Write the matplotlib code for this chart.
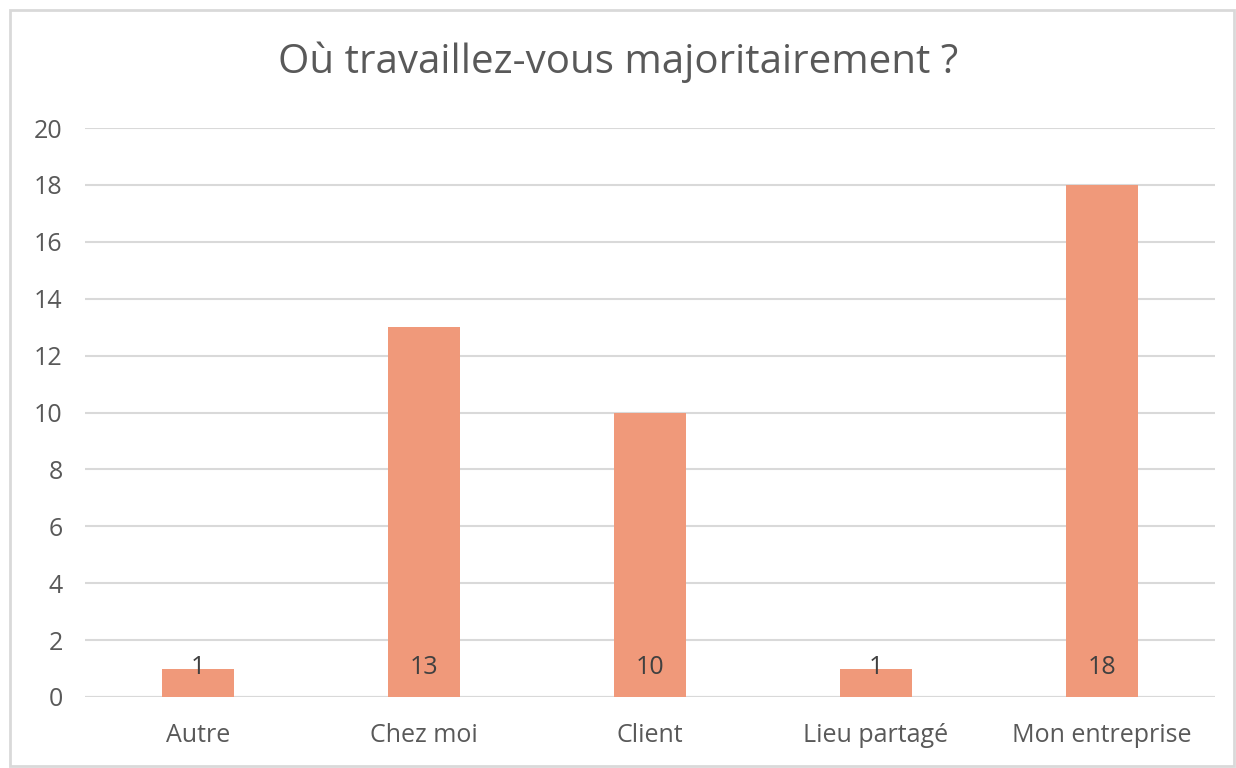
import matplotlib.pyplot as plt
from matplotlib.patches import Rectangle

categories = ['Autre', 'Chez moi', 'Client', 'Lieu partagé', 'Mon entreprise']
values = [1, 13, 10, 1, 18]
yticks = list(range(0, 21, 2))

plt.rcParams['font.family'] = ['Open Sans', 'DejaVu Sans']

fig = plt.figure(figsize=(12.36, 7.68), dpi=100)
ax = fig.add_axes([85 / 1236, 1 - 697 / 768, 1130 / 1236, 569 / 768])

x = range(len(categories))
ax.bar(x, values, width=0.32, color='#F0997A', zorder=2)
for i, v in zip(x, values):
    ax.annotate(str(v), (i, 0), xytext=(0, 30), textcoords='offset pixels',
                ha='center', va='center', fontsize=18, color='#404040', zorder=3)

ax.set_xlim(-0.5, len(categories) - 0.5)
ax.set_ylim(0, 20)
ax.set_yticks(yticks)
ax.set_xticks(list(x))
ax.set_xticklabels(categories)
ax.grid(axis='y', color='#D9D9D9', linewidth=1.5, zorder=0)
for s in ax.spines.values():
    s.set_visible(False)
ax.axhline(0, color='#D9D9D9', linewidth=1.5, zorder=1)
ax.tick_params(length=0, labelsize=18, labelcolor='#595959')
ax.tick_params(axis='x', pad=19)
ax.tick_params(axis='y', pad=16)

fig.text(0.5, 1 - 62 / 768, 'Où travaillez-vous majoritairement ?', ha='center', va='center',
         fontsize=29, color='#595959')

fig.patches.append(Rectangle((10 / 1236, 2 / 768), 1224 / 1236, 756 / 768, transform=fig.transFigure,
                             fill=False, edgecolor='#D9D9D9', linewidth=2))

fig.savefig('out.png', dpi=100)
